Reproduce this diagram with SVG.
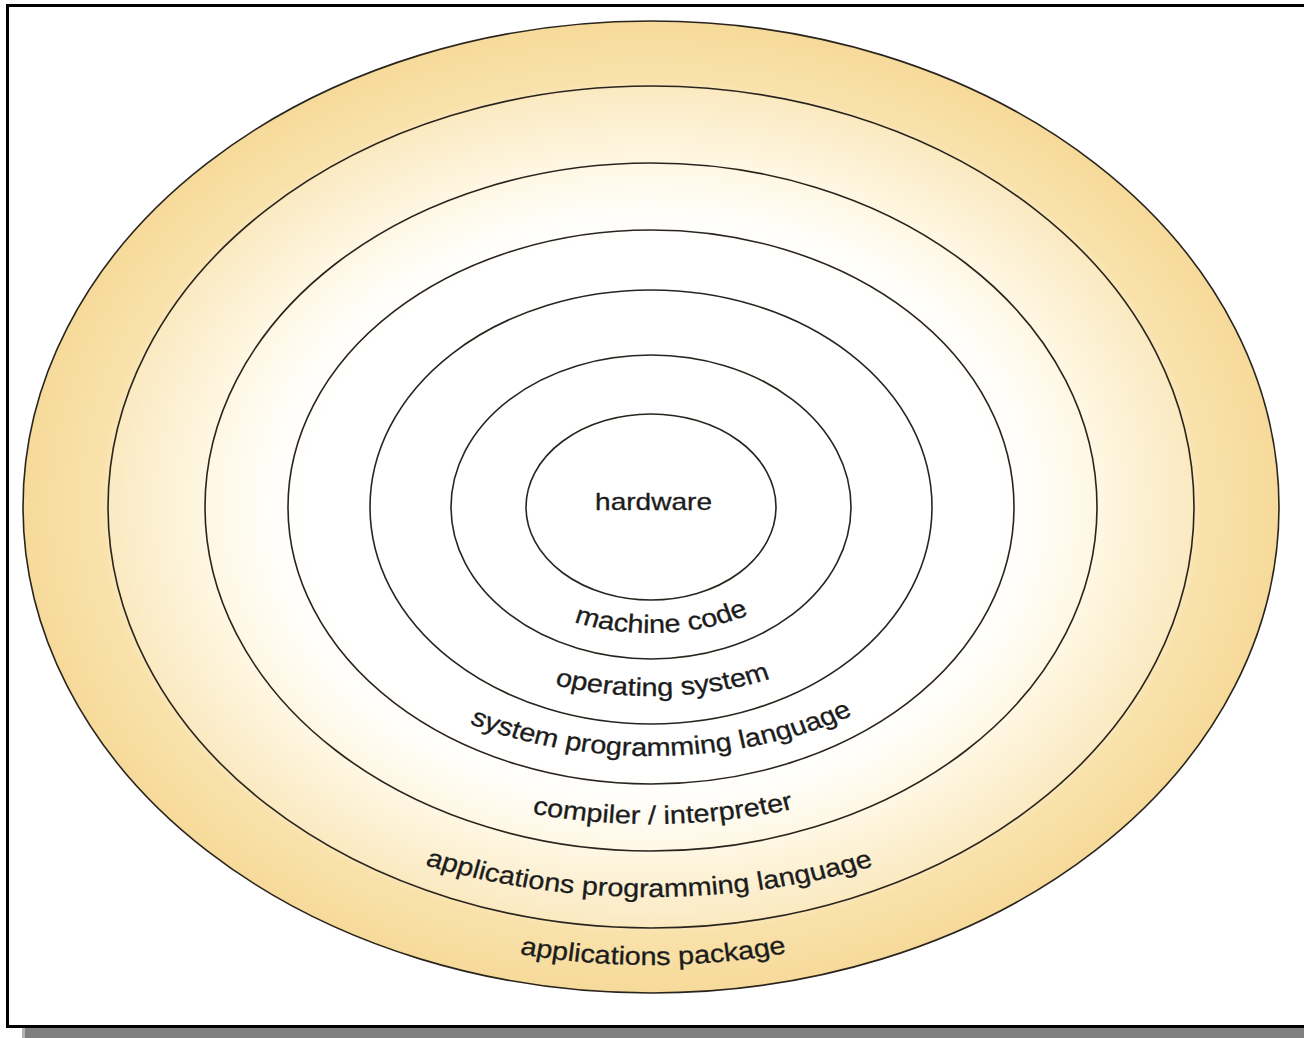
<svg xmlns="http://www.w3.org/2000/svg" xmlns:xlink="http://www.w3.org/1999/xlink" width="1304" height="1038" viewBox="0 0 1304 1038">
  <style>
    .ring { fill: none; stroke: #2a241e; stroke-width: 1.6; }
    .lbl { font-family: "Liberation Sans", Arial, Helvetica, sans-serif; font-size: 25.5px; fill: #1c1c1c; stroke: #1c1c1c; stroke-width: 0.3; text-anchor: middle; }
  </style>
  <defs>
    <radialGradient id="glow" cx="0.5" cy="0.5" r="0.5">
      <stop offset="0" stop-color="#ffffff"/>
      <stop offset="0.55" stop-color="#ffffff"/>
      <stop offset="0.6" stop-color="#fffefa"/>
      <stop offset="0.71" stop-color="#fef7e3"/>
      <stop offset="0.86" stop-color="#fbeac2"/>
      <stop offset="0.875" stop-color="#f9e2ab"/>
      <stop offset="1" stop-color="#f6da9a"/>
    </radialGradient>
    <path id="p-mc" d="M 409.74 507 A 166.37 126 0 0 0 742.48 507"/>
    <path id="p-os" d="M 323.9 507 A 252.21 189 0 0 0 828.32 507"/>
    <path id="p-spl" d="M 250.45 507 A 325.66 249 0 0 0 901.77 507"/>
    <path id="p-ci" d="M 161.95 507 A 414.16 317 0 0 0 990.27 507"/>
    <path id="p-apl" d="M 71.69 507 A 504.42 390 0 0 0 1080.53 507"/>
    <path id="p-ap" d="M 45.14 507 A 530.97 458 0 0 0 1107.08 507"/>
  </defs>

  <!-- page frame -->
  <rect x="0" y="0" width="1304" height="1038" fill="#ffffff"/>
  <rect x="22" y="1028" width="1282" height="10" fill="#808080"/>
  <rect x="22" y="1028" width="3" height="10" fill="#b4b4b4"/>
  <path d="M 7.5 1027 L 7.5 5.5 L 1304 5.5 M 6 1026.5 L 1304 1026.5" fill="none" stroke="#000000" stroke-width="3"/>

  <g id="applications-package">
    <ellipse cx="651" cy="507" rx="628" ry="486" fill="url(#glow)" stroke="#2a241e" stroke-width="1.6"/>
    <text class="lbl" transform="scale(1.13,1)"><textPath xlink:href="#p-ap" href="#p-ap" startOffset="779.6">applications package</textPath></text>
  </g>
  <g id="applications-programming-language">
    <ellipse class="ring" cx="651" cy="507" rx="543" ry="421"/>
    <text class="lbl" transform="scale(1.13,1)"><textPath xlink:href="#p-apl" href="#p-apl" startOffset="703.6">applications programming language</textPath></text>
  </g>
  <g id="compiler-interpreter">
    <ellipse class="ring" cx="651" cy="507" rx="446" ry="344"/>
    <text class="lbl" transform="scale(1.13,1)"><textPath xlink:href="#p-ci" href="#p-ci" startOffset="587.4">compiler / interpreter</textPath></text>
  </g>
  <g id="system-programming-language">
    <ellipse class="ring" cx="651" cy="507" rx="363" ry="277"/>
    <text class="lbl" transform="scale(1.13,1)"><textPath xlink:href="#p-spl" href="#p-spl" startOffset="463">system programming language</textPath></text>
  </g>
  <g id="operating-system">
    <ellipse class="ring" cx="651" cy="507" rx="281" ry="217"/>
    <text class="lbl" transform="scale(1.13,1)"><textPath xlink:href="#p-os" href="#p-os" startOffset="358.9">operating system</textPath></text>
  </g>
  <g id="machine-code">
    <ellipse class="ring" cx="651" cy="507" rx="200" ry="152"/>
    <text class="lbl" transform="scale(1.13,1)"><textPath xlink:href="#p-mc" href="#p-mc" startOffset="240.5">machine code</textPath></text>
  </g>
  <g id="hardware">
    <ellipse class="ring" cx="651" cy="507" rx="125" ry="93"/>
    <text class="lbl" style="font-size:23px" transform="scale(1.22,1)" x="535.7" y="510">hardware</text>
  </g>
</svg>
